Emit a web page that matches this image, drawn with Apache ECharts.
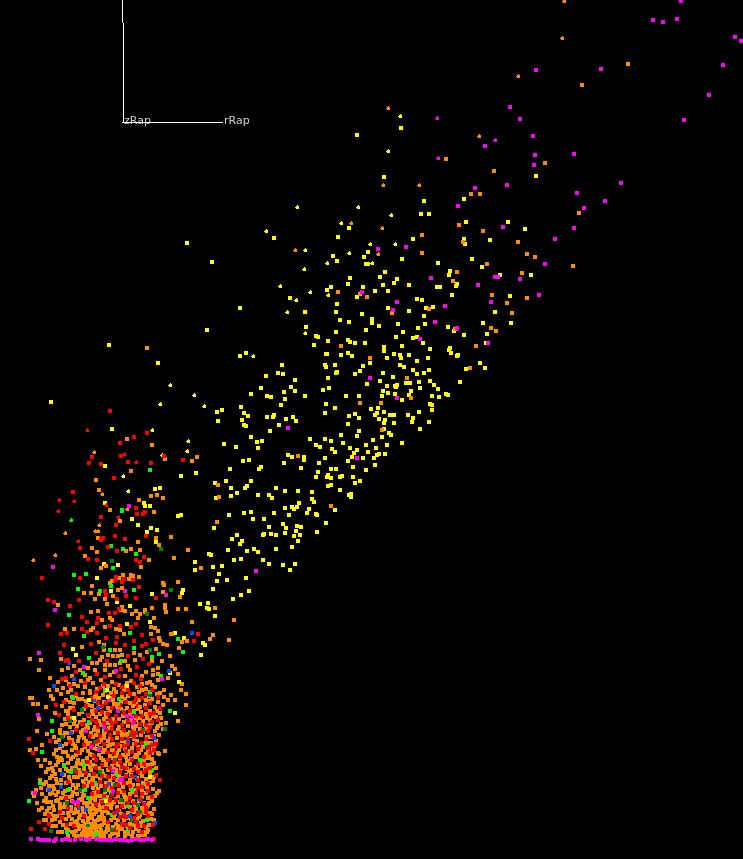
<!DOCTYPE html>
<html><head><meta charset="utf-8">
<style>html,body{margin:0;padding:0;background:#000}#c{width:743px;height:859px}</style>
<script src="https://cdn.jsdelivr.net/npm/echarts@6/dist/echarts.min.js"></script>
</head><body><div id="c"></div>
<script>
const axisNames=['zRap','rRap'];
const axisTop=[[122.5,0],[122.5,23]];
const axisLower=[[123.5,23],[123.5,122.5]];
const axisFoot=[[122,122.5],[223,122.5]];
const yellowSmall=[[400,116],[388,151],[297,207],[358,207],[391,215],[341,223],[266,231],[370,244],[395,244],[305,250],[349,253],[327,263],[372,263],[304,269],[280,286],[310,292],[328,295],[296,300],[287,312],[305,333],[253,356],[170,385],[194,395],[204,406],[160,404],[188,441],[187,451],[162,455],[152,430],[123,476],[128,491]];
const yellowPts=[[536,176],[508,222],[525,229],[531,275],[500,275],[510,296],[357,135],[401,128],[384,177],[424,201],[421,214],[429,214],[464,199],[466,222],[274,238],[349,228],[338,237],[413,239],[464,239],[465,244],[490,240],[368,252],[364,257],[333,256],[337,261],[366,264],[368,264],[402,259],[438,263],[472,259],[482,267],[450,271],[449,275],[385,272],[380,277],[350,278],[397,279],[394,283],[383,285],[409,285],[348,284],[363,287],[331,287],[327,290],[375,291],[388,291],[437,287],[440,287],[457,284],[456,286],[452,295],[357,297],[290,298],[417,299],[422,300],[337,304],[388,308],[426,308],[433,307],[305,312],[336,312],[362,314],[409,311],[424,316],[495,312],[340,320],[372,319],
[349,322],[372,323],[379,326],[398,324],[425,324],[418,328],[448,327],[454,331],[483,323],[511,323],[487,334],[464,335],[306,327],[336,332],[366,330],[403,332],[316,336],[318,337],[396,337],[413,338],[417,337],[328,341],[348,340],[350,342],[355,343],[365,343],[423,343],[486,343],[314,345],[384,347],[384,351],[402,346],[430,349],[450,348],[449,350],[451,353],[458,355],[457,356],[326,354],[327,354],[341,355],[348,353],[352,356],[394,354],[400,355],[409,355],[387,358],[401,358],[428,358],[370,363],[417,361],[480,363],[325,365],[335,365],[363,366],[326,367],[400,365],[404,367],[485,368],[466,369],[413,370],[429,370],[360,371],[337,372],[336,373],[383,373],[417,374],[424,373],[355,374],[328,378],[393,377],[380,381],[367,384],[419,382],[430,381],[406,383],[410,383],[397,385],[460,382],[387,386],[395,386],[396,387],[434,385],[329,388],[323,390],[420,388],[383,391],[411,391],[438,389],[388,393],[395,394],[409,395],[382,396],[305,396],[346,396],[359,396],[432,396],[439,397],[446,394],[448,395],[402,400],[326,404],[430,404],[432,405],[335,408],[371,409],[378,408],[432,410],[325,413],[384,412],[355,414],[349,416],[359,418],[375,415],[377,413],[390,415],[394,415],[408,415],[419,412],[413,418],[379,419],[385,420],[384,423],[394,423],[412,422],[429,422],[348,424],[420,429],[384,429],[359,431],[341,435],[357,436],[389,433],[391,435],[382,437],[310,439],[325,439],[331,441],[373,440],[343,443],[387,445],[402,443],[316,445],[320,447],[366,445],[350,448],[376,448],[332,449],[335,452],[357,450],[354,453],[368,452],[379,454],[377,455],[385,454],[352,457],[374,458],[363,458],[304,457],[304,460],[325,458],[348,461],[319,463],[375,465],[353,467],[301,468],[331,469],[336,469],[366,470],[318,472],[316,477],[328,475],[327,477],[331,478],[340,477],[342,476],[353,477],[360,481],[355,483],[331,485],[328,486],[340,490],[312,492],[351,494],[349,495],[351,497],[312,499],
[240,356],[246,353],[282,365],[278,373],[283,374],[266,376],[295,380],[261,388],[291,387],[284,392],[295,391],[251,394],[267,396],[271,397],[285,399],[281,405],[241,407],[217,412],[222,410],[244,413],[248,416],[267,417],[273,417],[274,415],[293,417],[286,419],[296,421],[242,420],[218,421],[244,425],[246,426],[279,425],[270,431],[251,437],[257,442],[262,441],[224,444],[236,447],[258,448],[288,455],[292,457],[243,461],[249,460],[284,463],[261,467],[259,469],[230,469],[181,476],[196,473],[226,481],[251,481],[215,483],[231,488],[247,486],[245,488],[276,488],[237,493],[285,491],[298,491],[231,496],[258,495],[269,495],[272,498],[314,502],[299,503],[216,498],[285,508],[292,507],[294,509],[297,507],[309,509],[307,513],[335,510],[316,514],[317,515],[244,513],[251,512],[274,513],[289,515],[229,515],[181,515],[178,516],[253,519],[264,519],[160,488],
[326,523],[214,528],[269,527],[283,524],[286,528],[297,526],[301,527],[296,531],[285,533],[317,532],[237,535],[232,539],[264,534],[263,535],[271,534],[276,535],[294,536],[300,535],[242,541],[240,544],[298,541],[292,547],[276,549],[254,549],[247,551],[258,552],[228,550],[209,554],[211,555],[234,560],[241,559],[263,560],[195,562],[269,564],[283,565],[295,564],[213,567],[222,566],[195,570],[290,570],[219,574],[246,578],[217,581],[227,580],[183,590],[182,593],[213,589],[249,591],[241,595],[233,599],[200,604],[208,603],[207,608],[209,609],[215,616],[175,633],[184,638],[203,643],[205,645],[201,655],
[109,345],[158,363],[51,402],[112,429],[105,466],[155,489],[160,488],[144,503],[145,506],[150,506],[105,503],[132,519],[138,525],[151,528],[157,530],[147,532],[156,542],[97,578],[104,564],[118,565],[111,591],[152,594],[117,602],[130,606],[127,624],[150,622],[73,649],[76,655],[170,673],
[187,243],[212,262],[240,308],[207,330]];
const orangeSmall=[[564,1],[562,38],[518,76],[388,108],[351,223],[383,185],[419,185],[382,228],[378,254],[295,250],[479,136],[94,452],[102,494],[127,509],[33,560],[55,555],[65,533],[95,531],[98,531],[99,525]];
const orangePts=[[628,64],[582,85],[545,163],[579,213],[518,242],[527,254],[535,257],[573,266],[522,273],[527,298],[446,159],[494,171],[471,194],[480,194],[459,225],[483,231],[422,235],[463,242],[422,253],[487,264],[457,272],[453,281],[338,292],[360,294],[367,297],[492,295],[429,309],[392,313],[507,303],[512,313],[491,328],[496,331],[455,329],[476,346],[341,346],[370,358],[470,368],[407,378],[411,398],[381,403],[360,403],[382,430],[298,456],[218,485],[219,497],[163,498],[165,459],[192,461],[197,457],[331,506],[217,522],[171,537],[188,550],[174,558],[201,568],[178,582],[180,597],[178,609],[186,609],[215,608],[192,622],[234,620],[213,635],[210,639],[229,640],[182,642],[187,641],[179,648],[171,634],[170,656],[147,348],[127,439],[152,445],[131,471],[96,480],[99,490],[151,496],[157,495],[139,500],[110,510],
[154,512],[120,521],[156,538],[98,538],[138,542],[159,545],[92,548],[97,552],[126,551],[131,549],[140,550],[85,556],[149,560],[101,568],[106,566],[141,567],[139,577],[123,575],[131,575],[133,576],[119,578],[129,579],[112,581],[110,583],[163,583],[164,585],[92,586],[122,588],[118,590],[163,592],[84,593],[91,593],[99,594],[113,596],[95,599],[105,599],[107,604],[58,605],[165,605],[165,608],[122,607],[152,608],[91,612],[98,611],[125,611],[136,611],[145,610],[145,612],[166,612],[132,614],[138,618],[140,614],[121,610],[154,618],[110,618],[112,620],[102,620],[93,628],[91,630],[65,629],[74,629],[105,627],[116,629],[120,630],[151,627],[155,628],[158,631],[151,634],[124,634],[172,634],[159,638],[160,641],[163,644],[167,645],[82,647],[99,642],[104,645],[156,649],[30,659],[41,660],[61,659],[162,661],[172,666],[175,669],[39,670],[178,674],[50,678],[80,670],[85,675],[92,663],[97,663],[102,657],[108,655],[113,656],[118,656],[122,655],[105,665],[110,665],[115,665],[120,663],[125,661],[95,670],[105,670],[110,675],[125,676],[130,670],[135,660],[153,670],[153,675],[168,678],[104,650],[120,650],[115,650],
[147,652],[140,655],[152,661],[158,668],[146,672],[134,653],[128,666],[100,660],[88,668],[74,666],[68,668],[62,670],[72,676],[90,678],[114,672],[142,676],[158,674],
[30,698],[32,698],[33,704],[38,704],[46,707],[49,690],[51,696],[53,699],[57,690],[55,713],[39,719],[62,725],[65,719],[37,731],[47,734],[54,737],[60,733],[42,745],[30,750],[36,749],[56,750],[59,758],[175,700],[186,705],[178,721],[166,723],[161,724],[165,751],[159,754],[182,684],[181,690],[186,694],[33,793],[36,790],[37,803],[39,810],[44,820],[54,816],[58,832],[157,793],[159,791],[152,814],[154,820],[147,832],[38,760],[40,780],
[58,682],[66,680],[74,684],[81,681],[93,683],[101,680],[112,682],[119,685],[131,681],[142,684],[150,682],[158,680],[63,688],[71,690],[85,687],[97,689],[108,686],[124,690],[137,687],[146,689],[155,687],[164,690],[61,694],[76,696],[90,693],[103,695],[116,692],[128,696],[134,694],[149,696],[160,693],[171,695],[66,700],[70,702],[82,699],[95,701],[110,698],[121,702],[139,700],[152,699],[158,702],[168,700],[62,706],[73,708],[88,705],[100,707],[114,704],[127,708],[133,706],[145,705],[155,707],[163,705],[68,712],[79,714],[92,711],[106,713],[118,710],[130,714],[141,712],[150,711],[160,713],[71,718],[84,720],[96,717],[104,719],[123,716],[136,720],[147,718],[156,717],[66,724],[77,726],[90,723],[101,725],[115,722],[128,726],[139,724],[152,723],[158,726],[60,730],[72,732],[86,729],[98,731],[109,728],[122,732],[134,730],[146,729],[155,731],[163,729],[63,736],[69,738],[82,735],[93,737],[104,734],[117,738],[130,736],[141,735],[150,737],[159,735],[56,742],[66,744],[78,741],[90,743],[101,740],[113,744],[126,742],[137,741],[147,743],[156,741],[60,748],[72,750],[85,747],[97,749],[108,746],[119,750],[132,748],[143,747],[153,749],[54,754],[68,756],[80,753],[92,755],[103,752],[116,756],[128,754],[139,753],[149,755],[158,753],[45,760],[58,762],[71,759],[83,761],[94,758],[106,762],[120,760],[131,759],[144,761],[152,759],[41,766],[52,768],[64,765],[76,767],[88,764],[99,768],[112,766],[125,765],[136,767],[148,765],[156,768],[46,772],[55,774],[68,771],[80,773],[91,770],[103,774],[117,772],[129,771],[140,773],[151,771],[50,778],[61,780],[74,777],[86,779],[96,776],[110,780],[122,778],[134,777],[146,779],[154,777],[44,784],[53,786],[66,783],[78,785],[89,782],[101,786],[113,784],[127,783],[138,785],[150,783],[48,790],[58,792],[70,789],[82,791],[93,788],[105,792],[119,790],[131,789],[142,791],[153,789],[34,796],[46,798],[56,795],[65,797],[77,794],[88,798],[100,796],[112,795],[125,797],[136,795],[148,798],[155,796],[51,802],[60,804],[72,801],[84,803],[95,800],[107,804],[120,802],[133,801],[144,803],[152,801],[42,808],[54,810],[64,807],[76,809],[87,806],[98,810],[111,808],[124,807],[136,809],[147,807],[154,809],[45,814],[57,816],[68,813],[80,815],[90,812],[102,816],[115,814],[128,813],[140,815],[150,813],[46,820],[60,822],[72,819],[83,821],[92,818],[104,822],[118,820],[131,819],[143,821],[151,819],[52,826],[66,828],[78,825],[86,827],[95,824],[107,828],[120,826],[134,825],[146,827],[72,832],[82,834],[88,831],[94,833],[101,830],[112,834],[125,832],[139,831],[76,836],[84,835],[90,836],[96,834],[104,836],[118,835],[132,836],[145,835],[86,824],[90,828],[96,829],[100,826],[84,830],[92,824],[98,820],[88,818],[94,814],[84,812],[102,812],[90,808],
[69,684],[88,680],[105,691],[126,686],[147,683],[68,692],[83,693],[96,696],[111,693],[122,697],[142,690],[157,694],[74,703],[78,699],[92,706],[104,702],[117,706],[130,703],[146,700],[164,697],[66,711],[84,709],[98,708],[110,711],[124,711],[138,709],[153,716],[75,720],[89,716],[100,714],[113,719],[131,720],[143,721],[161,718],[70,727],[83,730],[95,727],[107,723],[119,727],[133,727],[145,725],[65,733],[79,737],[91,733],[102,737],[115,733],[127,734],[140,729],[154,736],[59,740],[73,744],[86,741],[97,744],[108,741],[122,741],[134,739],[151,743],[63,752],[76,748],[88,751],[101,748],[113,750],[125,749],[138,747],[148,752],[57,757],[73,757],[87,758],[99,755],[110,756],[123,755],[135,757],[146,754],[50,763],[62,760],[77,763],[90,762],[103,760],[116,763],[127,761],[140,762],[154,763],[48,769],[60,770],[72,768],[84,769],[95,766],[108,770],[121,768],[132,770],[145,769],[52,776],[64,775],[78,777],[89,775],[100,779],[113,776],[126,775],[137,778],[150,775],[46,782],[57,783],[70,781],[83,781],[93,781],[106,783],[117,780],[130,782],[143,783],[41,788],[54,789],[65,791],[76,788],[87,786],[98,789],[110,787],[123,787],[135,790],[147,787],[42,794],[52,793],[61,798],[72,796],[83,796],[94,793],[107,797],[118,796],[130,794],[142,797],[47,802],[56,801],[67,802],[79,800],[90,802],[101,801],[114,802],[126,800],[139,801],[149,803],[49,808],[60,808],[71,807],[82,808],[93,805],[104,807],[117,807],[130,807],[142,808],[51,814],[63,813],[74,813],[85,815],[96,812],[108,813],[121,814],[134,812],[145,813],[52,820],[66,819],[77,821],[88,820],[99,817],[111,820],[124,820],[137,819],[56,826],[71,824],[82,826],[91,827],[102,825],[113,827],[127,826],[140,826],[62,832],[76,831],[85,832],[91,832],[97,832],[106,832],[118,831],[133,832],[144,832],[68,836],[80,836],[87,836],[93,837],[100,836],[110,836],[125,836],[138,836],
[78,686],[90,691],[103,686],[114,689],[127,683],[139,692],[152,685],[72,697],[86,701],[99,698],[113,700],[125,699],[136,704],[149,701],[70,708],[82,712],[95,710],[108,708],[121,709],[134,711],[146,714],[157,711],[68,716],[80,722],[93,714],[106,717],[119,719],[127,721],[140,718],[150,720],[74,724],[87,725],[99,721],[111,725],[124,722],[136,726],[149,725],[68,733],[81,732],[94,730],[105,732],[118,730],[130,732],[143,732],[157,728],[72,740],[84,738],[96,735],[110,739],[122,736],[136,735],[147,737],[62,746],[75,746],[88,744],[99,742],[110,745],[122,746],[134,744],[145,743],[154,746],[66,752],[82,750],[94,748],[105,750],[117,753],[130,751],[141,750],[152,753],[61,758],[76,755],[90,754],[101,758],[113,758],[126,757],[137,757],[148,758],[56,765],[68,763],[81,764],[93,765],[106,765],[118,765],[130,764],[142,766],[152,764],[53,771],[66,769],[79,770],[90,767],[102,771],[114,769],[127,769],[138,770],[150,772],[56,779],[69,777],[82,775],[93,778],[105,776],[119,776],[131,775],[142,776],[153,781],[49,786],[61,785],[73,785],[84,784],[96,785],[108,785],[120,783],[133,785],[146,784],[50,794],[63,793],[73,792],[85,790],[97,792],[109,790],[122,792],[134,792],[146,793],[44,801],[58,800],[69,797],[81,799],[92,798],[104,799],[116,799],[128,798],[141,799],[151,797],[53,806],[65,804],[76,804],[88,803],[99,805],[112,804],[123,804],[135,805],[148,805],[47,811],[60,813],[71,811],[83,811],[94,809],[106,811],[119,811],[132,811],[144,812],[55,819],[69,816],[79,818],[91,815],[102,819],[114,818],[127,818],[139,817],[148,818],[63,825],[75,822],[85,824],[94,821],[105,823],[116,824],[130,824],[141,823],[149,825],[68,830],[79,829],[87,829],[93,828],[99,827],[109,830],[122,829],[136,829],[148,830],[74,835],[83,833],[89,833],[95,836],[102,833],[115,833],[128,834],[142,835]];
const greenPts=[[150,470],[122,510],[178,639],[183,652],[122,511],[111,546],[123,549],[136,554],[113,568],[74,575],[86,574],[78,589],[100,591],[111,586],[134,590],[69,615],[84,636],[130,633],[134,648],[110,650],[152,657],[159,654],[89,658],[83,673],[161,676],[121,661],[170,711],[52,721],[52,731],[42,752],[40,783],[29,801],[67,832],[105,690],[119,699],[150,692],[134,712],[89,722],[73,698],[100,748],[127,744],[140,760],[84,765],[116,775],[132,790],[95,783],[145,744],[112,815],[128,806],[88,798],[71,772],[147,820],[104,730],[64,766],[152,770],[96,834],[128,830],[68,790],[111,793],[85,790],[104,800]];
const greenDark=[[171,590],[112,561],[161,549],[147,614],[150,650],[103,647],[165,729],[51,831],[70,721],[62,737],[115,760],[131,735],[75,770],[105,790],[121,800],[138,805],[92,700],[150,695],[112,830],[140,812],[82,710],[95,742],[123,712],[143,730],[80,790],[115,785],[67,803],[88,825],[132,820],[100,772]];
const greenSmall=[[71,520]];
const bluePts=[[192,633],[169,671],[69,663],[74,679],[54,686],[94,700],[75,718],[71,733],[60,745],[62,774],[49,790],[61,787],[109,784],[135,777],[141,800],[86,810],[117,812],[130,816],[155,823],[79,808],[128,742],[98,708],[154,738]];
const redSmall=[[87,430],[124,454],[136,462],[59,500],[74,501],[106,505],[58,511],[78,541],[118,517]];
const redPts=[[110,411],[147,433],[134,437],[120,443],[92,457],[121,456],[89,463],[101,464],[128,462],[151,463],[183,460],[114,478],[73,492],[136,508],[198,634],[194,641],[164,456],
[101,517],[137,514],[143,514],[145,512],[116,525],[115,536],[125,539],[146,536],[101,540],[103,538],[80,548],[108,547],[117,551],[144,557],[136,560],[140,562],[88,559],[97,560],[80,578],[42,578],[133,580],[115,580],[116,577],[122,582],[124,579],[139,587],[105,591],[106,595],[48,600],[54,602],[79,600],[70,606],[117,599],[126,596],[136,598],[156,598],[109,613],[115,613],[119,609],[82,617],[87,622],[98,618],[97,623],[48,625],[82,629],[61,634],[67,633],[87,632],[97,633],[110,626],[120,626],[136,624],[131,627],[106,638],[117,637],[142,635],[153,640],[64,645],[91,644],[116,643],[125,645],[134,641],[142,646],[146,644],[60,653],[96,653],[68,660],[66,661],[79,661],[107,661],[128,656],[143,659],[149,664],[121,669],[137,667],[76,672],[97,674],[136,675],[119,676],[105,677],[62,679],[66,678],[141,679],
[56,705],[59,715],[29,739],[33,753],[50,741],[31,829],[45,829],[39,822],[49,816],[49,824],[67,825],[160,780],[153,825],[154,839],
[70,686],[85,683],[100,688],[116,684],[128,690],[140,686],[152,690],[76,694],[92,698],[108,696],[122,693],[136,698],[146,694],[158,697],[64,702],[86,706],[98,703],[112,708],[126,702],[138,706],[150,703],[160,708],[74,710],[88,715],[102,712],[116,716],[130,711],[142,716],[154,713],[68,718],[82,724],[96,722],[110,720],[122,725],[134,722],[146,725],[158,720],[76,730],[90,736],[106,730],[118,733],[128,738],[142,732],[152,736],[70,742],[84,745],[98,741],[112,739],[124,746],[136,744],[148,748],[156,744],[78,752],[94,756],[108,752],[120,757],[132,752],[144,757],[154,750],[88,762],[102,765],[114,762],[126,768],[138,764],[150,768],[76,772],[94,774],[108,777],[120,772],[132,776],[144,772],[156,775],[68,782],[84,786],[100,782],[112,788],[124,783],[138,788],[148,784],[92,794],[104,796],[118,793],[130,798],[142,794],[152,797],[66,798],[78,806],[96,804],[108,802],[122,806],[134,803],[146,808],[60,812],[84,816],[114,813],[126,817],[138,814],[148,816],[74,826],[108,822],[122,824],[136,822],[144,826],[62,818],[68,808],[116,830],[130,828],[142,832],[110,800],[86,773],[124,815],[138,772],[118,744],[132,732],[112,724],[150,727],[102,706],[92,745],
[104,684],[122,687],[134,683],[96,692],[114,696],[130,694],[142,698],[106,703],[120,705],[134,702],[146,708],[96,711],[108,714],[124,713],[136,716],[150,714],[92,720],[104,723],[116,722],[128,721],[140,724],[152,722],[98,727],[112,729],[124,730],[136,733],[148,731],[100,736],[110,735],[122,739],[134,737],[146,739],[104,744],[116,747],[128,744],[142,743],[152,745],[100,749],[114,753],[126,751],[138,749],[150,753],[96,760],[108,760],[120,762],[132,760],[144,764],[96,768],[110,768],[122,767],[134,769],[146,770],[102,776],[114,778],[126,776],[138,780],[150,778],[92,784],[106,786],[118,785],[130,786],[142,787],[98,792],[112,795],[124,792],[136,793],[148,791],[102,802],[116,800],[128,803],[140,799],[106,808],[118,810],[132,810],[144,804],[120,817],[134,818],[146,812],[126,825],[138,826]];
const magentaSmall=[[437,118],[495,140],[438,158]];
const magentaPts=[[681,1],[653,20],[663,22],[677,19],[735,37],[741,41],[723,65],[709,95],[684,120],[601,69],[536,70],[510,107],[520,119],[533,136],[535,155],[534,165],[574,154],[507,185],[621,183],[577,193],[605,201],[584,208],[574,228],[503,227],[555,239],[545,264],[520,279],[539,295],[485,146],[475,188],[458,206],[378,249],[406,247],[495,277],[498,277],[431,278],[478,285],[362,292],[491,302],[397,302],[445,306],[393,310],[435,322],[457,328],[420,339],[488,343],[370,378],[397,398],[357,458],[288,428],[256,571],[129,506],[53,567],[125,591],[166,595],[55,610],[39,653],[84,667],[116,671],[162,679],[38,715],
[109,700],[118,711],[127,716],[132,717],[104,727],[86,731],[133,723],[91,747],[99,750],[35,793],[73,802],[78,802],[113,771],[122,779],[120,780],[113,791],
[31,839],[38,839],[41,840],[45,840],[49,840],[54,841],[56,839],[62,840],[66,839],[70,840],[75,840],[81,839],[86,840],[90,839],[96,839],[100,840],[104,840],[108,840],[112,840],[116,839],[120,840],[124,840],[128,841],[132,840],[136,839],[140,840],[144,840],[148,839],[152,840]];
const yellowTop=[[106,801],[179,682],[175,713],[107,690],[89,700],[74,718],[127,686],[108,697],[150,777]];
const orangeTop=[[95,697],[118,704],[140,707],[88,728],[104,738],[126,735],[78,760],[112,750],[136,755],[92,780],[116,770],[130,780],[84,795],[100,808],[92,816],[88,822],[96,826],[104,818],[78,812],[110,805],[124,795],[82,800],[96,796],[108,826],[100,834],[118,828],[86,838],[92,828]];

const opt=(name,data,color,small)=>({name,type:'scatter',data,silent:true,animation:false,large:false,
  symbol:small?'path://M2,0H3V1H4V4H1V3H0V2H1V1H2Z':'rect',symbolSize:small?[4,4]:4,
  itemStyle:{color,opacity:1},z:2});
const rule=(name,data)=>({name,type:'line',data,symbol:'none',silent:true,animation:false,lineStyle:{color:'#fff',width:1},z:1});
const chart=echarts.init(document.getElementById('c'),null,{renderer:'canvas'});
chart.setOption({
  backgroundColor:'#000',animation:false,
  grid:{left:0,top:0,width:743,height:859,containLabel:false},
  xAxis:{type:'value',min:0,max:743,show:false},
  yAxis:{type:'value',min:0,max:859,inverse:true,show:false},
  tooltip:{show:false},
  series:[
    rule('axisTop',axisTop),rule('axisLower',axisLower),rule('axisFoot',axisFoot),
    {name:'axisNames',type:'scatter',symbolSize:0,silent:true,animation:false,z:3,
      data:[{value:[124,121],name:axisNames[0]},{value:[224,121],name:axisNames[1]}],
      label:{show:true,position:'right',distance:0,formatter:p=>p.name,color:'#fff',fontFamily:'DejaVu Sans',fontSize:11}},
    opt('yellow',yellowPts,'#ffff00'),
    opt('yellowSmall',yellowSmall,'#ffff00',true),
    opt('orange',orangePts,'#ff8c00'),
    opt('orangeSmall',orangeSmall,'#ff8c00',true),
    opt('greenDark',greenDark,'#008000'),
    opt('green',greenPts,'#00ff00'),
    opt('greenSmall',greenSmall,'#00ff00',true),
    opt('blue',bluePts,'#0050ff'),
    opt('red',redPts,'#ff0000'),
    opt('redSmall',redSmall,'#ff0000',true),
    opt('orangeTop',orangeTop,'#ff8c00'),
    opt('magenta',magentaPts,'#ff00ff'),
    opt('magentaSmall',magentaSmall,'#ff00ff',true),
    opt('yellowTop',yellowTop,'#ffff00')
  ]
});
</script></body></html>
